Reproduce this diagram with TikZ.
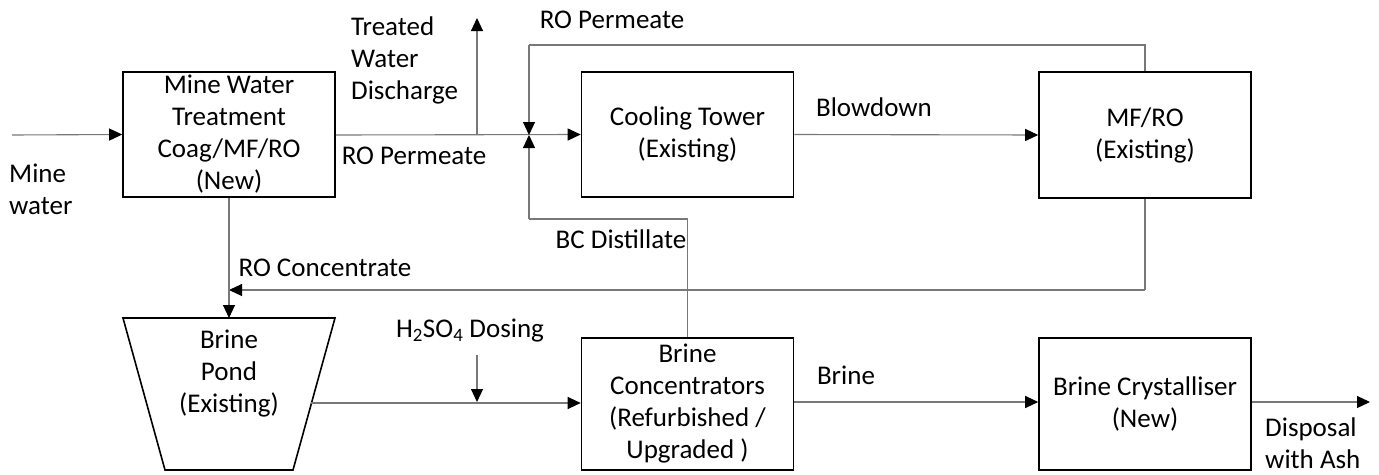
\documentclass[tikz,border=0pt]{standalone}
\usepackage{fontspec}
\setmainfont{Carlito}
\usetikzlibrary{arrows.meta}
\definecolor{linegray}{RGB}{120,120,120}
\tikzset{
  txt/.style={font=\fontsize{27}{32}\selectfont, inner sep=0pt},
  box/.style={draw=black, line width=1.6pt, txt, align=center, minimum width=212pt},
  conn/.style={draw=linegray, line width=1.1pt},
  arr/.style={conn, -{Triangle[length=13pt,width=12pt,fill=black,color=black]}},
}
\begin{document}
\begin{tikzpicture}[x=1pt,y=-1pt]
\useasboundingbox (0,0) rectangle (1379,474);
% boxes
\node[box, minimum height=125pt] (mwt) at (229,134.5) {Mine Water\\Treatment\\Coag/MF/RO\\(New)};
\node[box, minimum height=125pt] (ct) at (687.5,134.5) {Cooling Tower\\(Existing)};
\node[box, minimum height=126pt] (mfro) at (1145,135) {MF/RO\\(Existing)};
\node[box, minimum height=132pt] (bc) at (687.5,404) {Brine\\Concentrators\\(Refurbished /\\Upgraded )};
\node[box, minimum height=132pt] (bcr) at (1145,404) {Brine Crystalliser\\(New)};
% brine pond
\coordinate (pTL) at (123,318);
\coordinate (pTR) at (335,318);
\coordinate (pBR) at (293,470);
\coordinate (pBL) at (165,470);
\coordinate (pondtop) at (229,318);
\coordinate (pondR) at (311,403);
\draw[black, line width=1.6pt] (pTL) -- (pTR) -- (pBR) -- (pBL) -- cycle;
\node[txt, align=center] (pond) at (229,374) {Brine\\Pond\\(Existing)};
% coordinates
\coordinate (mwin) at (12,135);
\coordinate (j1) at (529,135);
\coordinate (tdbase) at (477,135);
\coordinate (tdtop) at (477,18);
\coordinate (topR) at (1145,45);
\coordinate (topL) at (529,45);
\coordinate (bcdR) at (687.5,219);
\coordinate (bcdL) at (529,219);
\coordinate (concR) at (1145,290);
\coordinate (concL) at (229,290);
\coordinate (h2top) at (477,355);
\coordinate (h2bot) at (477,402);
\coordinate (outend) at (1370,402);
% connectors
\draw[arr] (mwin) -- (mwt.west);
\draw[arr] (mwt.east |- j1) -- (ct.west);
\draw[arr] (tdbase) -- (tdtop);
\draw[arr] (ct.east) -- (mfro.west);
\draw[conn] (mfro.north) -- (topR) -- (topL);
\draw[arr] (topL) -- (j1);
\draw[conn] (bc.north) -- (bcdR) -- (bcdL);
\draw[arr] (bcdL) -- (j1);
\draw[conn] (mfro.south) -- (concR);
\draw[arr] (concR) -- (concL);
\draw[arr] (mwt.south) -- (pondtop);
\draw[arr] (pondR) -- (bc.west |- pondR);
\draw[arr] (h2top) -- (h2bot);
\draw[arr] (bc.east |- h2bot) -- (bcr.west |- h2bot);
\draw[arr] (bcr.east |- h2bot) -- (outend);
% labels
\node[txt, align=left, anchor=west] (lmw) at (9,189) {Mine\\water};
\node[txt, align=left, anchor=west] (ltd) at (351,60) {Treated\\Water\\Discharge};
\node[txt] (lrop1) at (414,156) {RO Permeate};
\node[txt] (lrop2) at (612,20) {RO Permeate};
\node[txt] (lbd) at (874,107) {Blowdown};
\node[txt] (lbcd) at (621,239) {BC Distillate};
\node[txt] (lroc) at (325,268) {RO Concentrate};
\node[txt] (lh2) at (470,331) {H\textsubscript{2}SO\textsubscript{4} Dosing};
\node[txt] (lbr) at (846,375) {Brine};
\node[txt, align=left, anchor=west] (ldis) at (1265,443) {Disposal\\with Ash};
\end{tikzpicture}
\end{document}
